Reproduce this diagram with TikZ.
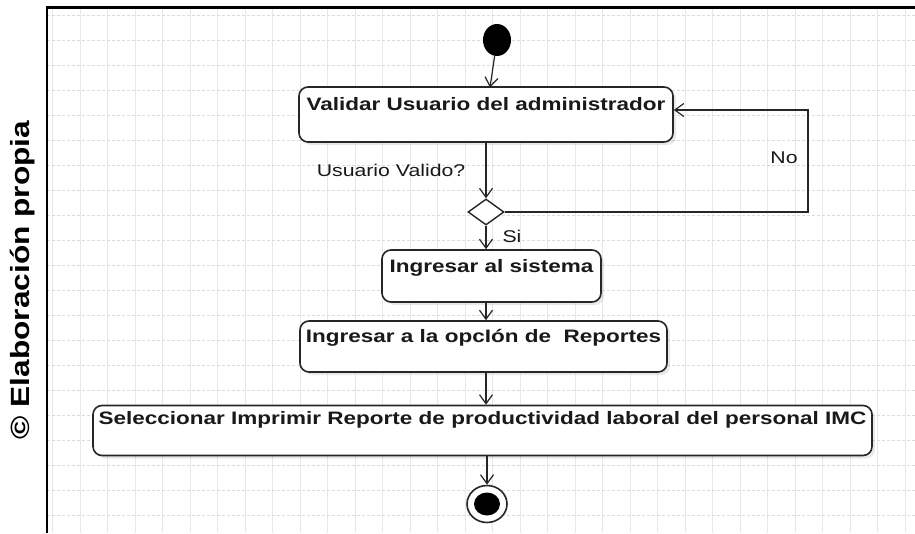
\documentclass[tikz,border=0pt]{standalone}
\usepackage{fontspec}
\setmainfont{Liberation Sans}
\newfontfamily\widefont[FakeStretch=1.25]{Liberation Sans}
\usetikzlibrary{arrows.meta,shapes.geometric,shadows}
\tikzset{
  actbox/.style={draw=black!85, line width=1.6pt, rounded corners=9pt, fill=white,
    drop shadow={opacity=0.18, shadow xshift=3pt, shadow yshift=-3pt}},
  acttext/.style={font=\widefont\fontsize{18}{20}\selectfont\bfseries, inner sep=0pt, text=black!90},
  lbl/.style={font=\widefont\fontsize{17}{19}\selectfont, inner sep=0pt, text=black!90},
  flow/.style={draw=black!85, line width=1.2pt, -{Straight Barb[length=9pt,width=13pt,line width=1.2pt]}},
  plain/.style={draw=black!85, line width=1.2pt}
}
\begin{document}
\begin{tikzpicture}[x=1pt,y=-1pt]
\useasboundingbox (0,0) rectangle (915,533);
\fill[white] (0,0) rectangle (915,533);
% grid
\foreach \gx in {52.5,80,...,915} \draw[black!9, line width=0.6pt] (\gx,8) -- (\gx,533);
\foreach \gy in {15,40,...,533} \draw[black!14, line width=0.6pt, dash pattern=on 3pt off 2pt] (47,\gy) -- (915,\gy);
% frame
\draw[black, line width=2.6pt] (47,533) -- (47,7.5) -- (915,7.5);
% side text
\node[rotate=90, inner sep=0pt, font=\fontsize{31}{33}\selectfont\bfseries] (credit) at (23,280) {\scalebox{1.02}[0.85]{© Elaboración propia}};
% start
\node[ellipse, fill=black, minimum width=28pt, minimum height=32pt, inner sep=0pt] (start) at (497,40) {};
% boxes
\node[actbox, minimum width=374pt, minimum height=55pt, inner sep=0pt] (b1) at (486,114.5) {};
\node[acttext] (t1) at (486,104) {Validar Usuario del administrador};
\node[actbox, minimum width=219pt, minimum height=52pt, inner sep=0pt] (b2) at (491.5,276) {};
\node[acttext] (t2) at (491.5,268) {Ingresar al sistema};
\node[actbox, minimum width=367pt, minimum height=51pt, inner sep=0pt] (b3) at (483.5,346.5) {};
\node[acttext] (t3) at (483.5,338) {Ingresar a la opcIón de\ \ Reportes};
\node[actbox, minimum width=779pt, minimum height=50pt, inner sep=0pt] (b4) at (482.5,430.5) {};
\node[acttext] (t4) at (482.5,420) {Seleccionar Imprimir Reporte de productividad laboral del personal IMC};
% decision
\node[diamond, draw=black!85, line width=1.4pt, fill=white, minimum width=36pt, minimum height=26pt, inner sep=0pt] (dec) at (486,212) {};
% end
\node[ellipse, draw=black!85, line width=1.6pt, fill=white, minimum width=40pt, minimum height=37pt, inner sep=0pt] (endo) at (487,504) {};
\node[ellipse, fill=black, minimum width=26pt, minimum height=23pt, inner sep=0pt] (endi) at (endo.center) {};
% labels
\node[lbl] (l1) at (391,170) {Usuario Valido?};
\node[lbl] (l2) at (784,158) {No};
\node[lbl] (l3) at (512,236) {Si};
% connectors
\coordinate (s1) at (490,87.5);
\draw[flow] (start) -- (s1);
\draw[flow] (b1.south -| dec) -- (dec.north);
\draw[flow] (dec.south) -- (b2.north -| dec);
\draw[flow] (b2.south -| dec) -- (b3.north -| dec);
\draw[flow] (b3.south -| dec) -- (b4.north -| dec);
\draw[flow] (b4.south -| endo) -- (endo.north);
\coordinate (nr) at (808,110);
\draw[flow] (dec.east) -| (nr) -- (nr -| b1.east);
\end{tikzpicture}
\end{document}
